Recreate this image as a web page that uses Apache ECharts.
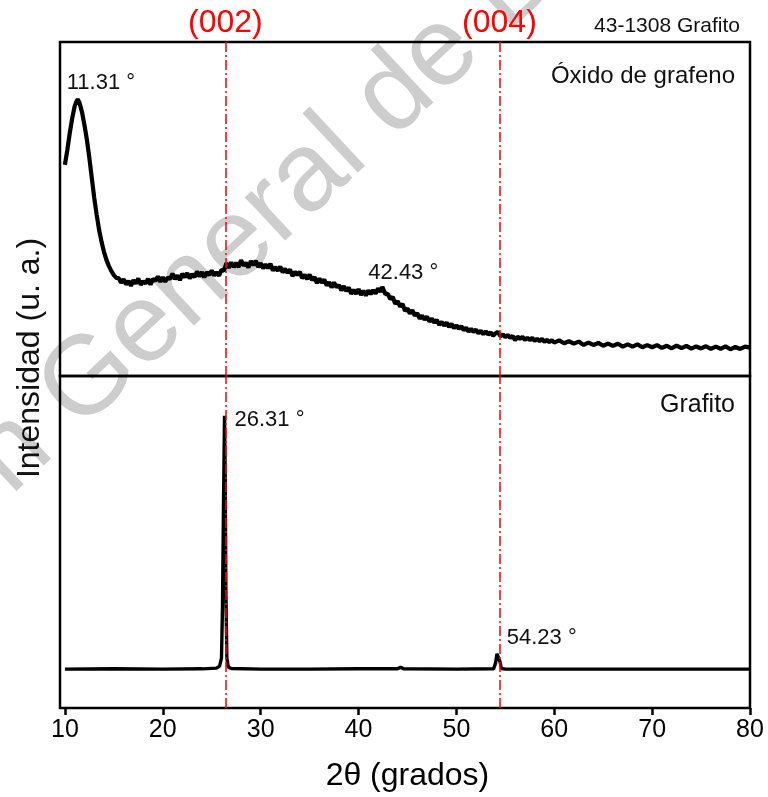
<!DOCTYPE html>
<html>
<head>
<meta charset="utf-8">
<script src="https://cdn.jsdelivr.net/npm/echarts@6/dist/echarts.min.js"></script>
<style>
html,body{margin:0;padding:0;background:#fff;}
#chart{width:768px;height:797px;}
</style>
</head>
<body>
<div id="chart"></div>
<script>
// Óxido de grafeno (top panel), [2θ, intensity a.u.]
var goData = [
  [10.0,63.2],[10.25,67.7],[10.5,72.8],[10.75,77.2],[11.0,80.8],[11.15,82.0],[11.31,82.9],
  [11.5,81.7],[11.75,79.0],[12.0,75.1],[12.25,70.7],[12.5,65.3],[12.75,59.3],[13.0,53.3],
  [13.25,48.2],[13.5,43.7],[13.75,40.1],[14.0,37.1],[14.25,34.7],[14.5,32.9],[14.75,31.4],
  [15.0,30.2],[15.25,29.4],[15.5,29.3],[15.75,27.9],[16.0,29.0],[16.25,27.4],[16.5,28.5],[16.75,27.0],
  [17.0,28.7],[17.25,27.7],[17.5,29.2],[17.75,27.3],[18.0,28.4],[18.25,27.7],[18.5,29.1],[18.75,27.3],
  [19.0,29.1],[19.25,28.5],[19.5,29.8],[19.75,28.2],[20.0,29.6],[20.25,28.2],[20.5,29.5],[20.75,29.0],
  [21.0,30.7],[21.25,29.0],[21.5,30.1],[21.75,28.7],[22.0,30.6],[22.25,29.6],[22.5,30.8],[22.75,29.2],
  [23.0,30.5],[23.25,29.6],[23.5,31.3],[23.75,29.8],[24.0,31.1],[24.25,29.5],[24.5,31.1],[24.75,30.2],
  [25.0,31.6],[25.25,30.1],[25.5,31.1],[25.75,30.0],[26.0,31.8],[26.25,31.5],[26.5,33.8],[26.75,32.4],
  [27.0,34.0],[27.25,32.6],[27.5,33.9],[27.75,32.6],[28.0,34.7],[28.25,33.0],[28.5,33.9],[28.75,32.5],
  [29.0,34.4],[29.25,33.2],[29.5,34.5],[29.75,32.6],[30.0,33.8],[30.25,32.2],[30.5,33.4],[30.75,32.3],
  [31.0,33.6],[31.25,31.6],[31.5,32.6],[31.75,31.5],[32.0,32.8],[32.25,31.0],[32.5,32.1],[32.75,30.9],
  [33.0,31.9],[33.25,29.9],[33.5,31.2],[33.75,30.2],[34.0,31.2],[34.25,29.3],[34.5,30.3],[34.75,29.0],
  [35.0,30.4],[35.25,28.7],[35.5,29.6],[35.75,27.8],[36.0,29.2],[36.25,27.9],[36.5,28.9],[36.75,27.1],
  [37.0,28.1],[37.25,26.5],[37.5,28.0],[37.75,26.6],[38.0,27.2],[38.25,25.6],[38.5,26.9],[38.75,25.4],
  [39.0,26.5],[39.25,24.6],[39.5,25.8],[39.75,24.6],[40.0,26.0],[40.25,24.3],[40.5,25.5],[40.75,24.1],
  [41.0,25.6],[41.25,24.5],[41.5,25.7],[41.75,24.7],[42.0,26.2],[42.25,25.2],[42.43,26.7],[42.75,24.5],
  [43.0,24.6],[43.25,23.0],[43.5,23.7],[43.75,21.6],[44.0,22.4],[44.25,20.8],[44.5,21.6],[44.75,19.5],
  [45.0,20.2],[45.25,18.7],[45.5,19.7],[45.75,18.1],[46.0,18.8],[46.25,17.2],[46.5,18.1],[46.75,16.9],
  [47.0,17.8],[47.25,16.3],[47.5,17.2],[47.75,16.0],[48.0,16.8],[48.25,15.3],[48.5,16.2],[48.75,15.1],
  [49.0,16.0],[49.25,14.7],[49.5,15.6],[49.75,14.3],[50.0,15.2],[50.25,14.1],[50.5,14.95],[50.75,13.7],
  [51.0,14.5],[51.25,13.25],[51.5,14.1],[51.75,13.15],[52.0,13.9],[52.25,12.75],[52.5,13.55],[52.75,12.5],
  [53.0,13.4],[53.25,12.4],[53.5,13.05],[53.75,12.0],[54.0,12.8],[54.25,13.2],[54.5,11.9],[54.75,12.5],
  [55.0,11.6],[55.25,12.3],[55.5,11.4],[55.75,12.0],[56.0,10.7],[56.25,11.8],[56.5,11.1],[56.75,11.7],
  [57.0,10.8],[57.25,11.45],[57.5,10.75],[57.75,11.4],[58.0,10.5],[58.25,11.1],[58.5,10.45],[58.75,11.1],
  [59.0,10.2],[59.25,10.8],[59.5,10.15],[59.75,10.7],[60.0,10.0],[60.5,10.65],[61.0,9.8],[61.5,10.4],
  [62.0,9.7],[62.5,10.3],[63.0,9.3],[63.5,10.0],[64.0,9.3],[64.5,9.9],[65.0,9.05],[65.5,9.7],
  [66.0,9.0],[66.5,9.65],[67.0,8.8],[67.5,9.45],[68.0,8.8],[68.5,9.45],[69.0,8.6],[69.5,9.25],
  [70.0,8.6],[70.5,9.25],[71.0,8.4],[71.5,9.05],[72.0,8.3],[72.5,9.1],[73.0,8.35],[73.5,9.0],
  [74.0,8.2],[74.5,8.85],[75.0,8.25],[75.5,8.9],[76.0,8.1],[76.5,8.8],[77.0,8.15],[77.5,8.85],
  [78.0,8.0],[78.5,8.7],[79.0,8.1],[79.5,8.8],[80.0,8.5]
];
// Grafito (bottom panel), [2θ, intensity a.u.]
var grData = [
  [10.0,11.7],[15.0,11.8],[20.0,11.7],[24.0,11.8],[25.5,12.0],[25.8,12.6],[26.0,15.0],
  [26.1,30.0],[26.2,60.0],[26.31,88.0],[26.38,70.0],[26.45,35.0],[26.55,15.0],[26.7,12.3],
  [27.0,11.9],[30.0,11.7],[35.0,11.7],[40.0,11.8],[44.0,11.8],[44.3,12.3],[44.6,11.8],
  [50.0,11.7],[53.8,11.8],[54.0,13.5],[54.15,16.3],[54.3,16.6],[54.45,14.0],[54.6,11.9],
  [55.0,11.7],[59.6,11.7],[59.8,12.0],[60.0,11.7],[70.0,11.7],[80.0,11.7]
];
// Reference lines (43-1308 Grafito)
var refLines = [{x: 26.4, label: '(002)'}, {x: 54.4, label: '(004)'}];
// Peak annotations
var goPeaks = [{x: 11.31, y: 82.9, text: '11.31 °', off: [-10, -15]}, {x: 42.43, y: 26.0, text: '42.43 °', off: [-13, -15]}];
var grPeaks = [{x: 26.31, y: 88.0, text: '26.31 °', off: [11, 5]}, {x: 54.23, y: 16.6, text: '54.23 °', off: [10, -14]}];
var xTicks = {min: 10, max: 80, interval: 10};

var FONT = 'Liberation Sans, Arial, sans-serif';
var chart = echarts.init(document.getElementById('chart'), null, {renderer: 'canvas'});

function peakPoints(arr) {
  return arr.map(function (p) {
    return {
      coord: [p.x, p.y], value: 0, symbol: 'circle', symbolSize: 2,
      itemStyle: {color: 'rgba(0,0,0,0)'},
      label: {show: true, formatter: p.text, position: p.off, align: 'left', verticalAlign: 'middle',
        color: '#111', fontSize: 22, fontFamily: FONT}
    };
  });
}
var dashRed = {color: '#ff0000', width: 1.5, type: [10, 3, 2, 3]};

var option = {
  animation: false,
  backgroundColor: '#fff',
  grid: [
    {left: 60, right: 18, top: 42, height: 334, show: true, borderColor: '#000', borderWidth: 2.5, backgroundColor: 'transparent'},
    {left: 60, right: 18, top: 376, height: 332, show: true, borderColor: '#000', borderWidth: 2.5, backgroundColor: 'transparent'},
    {left: 64.9, right: 18, top: 376, height: 332, show: false}
  ],
  xAxis: [
    {type: 'value', gridIndex: 0, min: 9.5, max: 80, show: false},
    {type: 'value', gridIndex: 1, min: 9.5, max: 80, show: false},
    {type: 'value', gridIndex: 2, min: xTicks.min, max: xTicks.max, interval: xTicks.interval,
      axisLine: {show: false},
      axisTick: {show: true, inside: false, length: 7, lineStyle: {color: '#000', width: 2.5}},
      axisLabel: {show: true, color: '#000', fontSize: 25, fontFamily: FONT, margin: 10},
      splitLine: {show: false},
      name: '2θ (grados)', nameLocation: 'middle', nameGap: 52,
      nameTextStyle: {color: '#000', fontSize: 32, fontFamily: FONT}}
  ],
  yAxis: [
    {type: 'value', gridIndex: 0, min: 0, max: 100, show: false},
    {type: 'value', gridIndex: 1, min: 0, max: 100, show: false},
    {type: 'value', gridIndex: 2, min: 0, max: 100, show: false}
  ],
  series: [
    {
      type: 'line', xAxisIndex: 0, yAxisIndex: 0, data: goData, showSymbol: false, z: 3,
      lineStyle: {color: '#000', width: 4.2}, silent: true,
      markLine: {
        silent: true, symbol: ['none', 'none'], lineStyle: dashRed,
        label: {show: true, position: 'end', distance: 3, color: '#ff0000', fontSize: 32, fontFamily: FONT},
        data: refLines.map(function (r) { return {xAxis: r.x, label: {formatter: r.label}}; })
      },
      markPoint: {silent: true, data: peakPoints(goPeaks)}
    },
    {
      type: 'line', xAxisIndex: 1, yAxisIndex: 1, data: grData, showSymbol: false, z: 3,
      lineStyle: {color: '#000', width: 3.4}, silent: true,
      markLine: {
        silent: true, symbol: ['none', 'none'], lineStyle: dashRed, label: {show: false},
        data: refLines.map(function (r) { return {xAxis: r.x}; })
      },
      markPoint: {silent: true, data: peakPoints(grPeaks)}
    }
  ],
  graphic: [
    {type: 'group', x: 58, y: 410, rotation: 43 * Math.PI / 180, z: -10, silent: true,
      children: [
        {type: 'text', z: -10, style: {text: 'Dirección ', x: 0, y: 0, align: 'right', verticalAlign: 'middle', fill: '#cdcdcd', font: '112px ' + FONT}},
        {type: 'text', z: -10, style: {text: 'General de Bibliotecas', x: 0, y: 0, align: 'left', verticalAlign: 'middle', fill: '#cdcdcd', font: '112px ' + FONT}}
      ]},
    {type: 'text', right: 28, top: 16, z: 10, style: {text: '43-1308 Grafito', fill: '#111', font: '21px ' + FONT}},
    {type: 'text', right: 33, top: 64, z: 10, style: {text: 'Óxido de grafeno', fill: '#111', font: '24px ' + FONT}},
    {type: 'text', right: 33, top: 393, z: 10, style: {text: 'Grafito', fill: '#111', font: '25px ' + FONT}},
    {type: 'text', x: 30, y: 358, rotation: Math.PI / 2, z: 10,
      style: {text: 'Intensidad (u. a.)', align: 'center', verticalAlign: 'middle', fill: '#111', font: '32px ' + FONT}}
  ]
};
chart.setOption(option);
</script>
</body>
</html>
